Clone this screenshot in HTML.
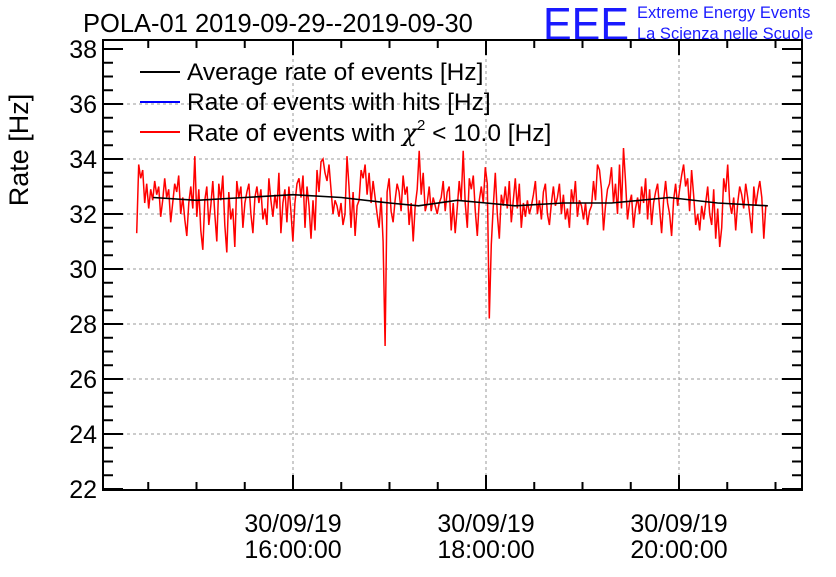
<!DOCTYPE html>
<html><head><meta charset="utf-8">
<style>
body{margin:0;background:#fff;width:836px;height:572px;overflow:hidden;font-family:"Liberation Sans",sans-serif;}
svg text{font-family:"Liberation Sans",sans-serif;}
</style></head><body>
<svg id="chart" width="836" height="572" viewBox="0 0 836 572">
<text x="83" y="32" font-size="25.5">POLA-01 2019-09-29--2019-09-30</text>
<g>
<text x="543" y="40" font-size="46" fill="#1a1aff" textLength="86" lengthAdjust="spacingAndGlyphs">EEE</text>
<text x="637" y="18" font-size="16.5" fill="#1a1aff">Extreme Energy Events</text>
<text x="637" y="39" font-size="16.5" fill="#1a1aff">La Scienza nelle Scuole</text>
</g>
<text transform="translate(28,150) rotate(-90)" text-anchor="middle" font-size="27">Rate [Hz]</text>
<g id="grid"></g>
<g id="axes"></g>
<g id="series"></g>
<rect x="103" y="40" width="699" height="450" fill="none" stroke="#000" stroke-width="2"/>
<g font-size="24.5">
<g><line x1="140" y1="72" x2="180" y2="72" stroke="#000" stroke-width="2"/><text x="187" y="80">Average rate of events [Hz]</text></g>
<g><line x1="140" y1="102" x2="180" y2="102" stroke="#00f" stroke-width="2"/><text x="187" y="110">Rate of events with hits [Hz]</text></g>
<g><line x1="140" y1="132" x2="180" y2="132" stroke="#f00" stroke-width="2"/><text x="187" y="141">Rate of events with <tspan font-family="DejaVu Serif, serif" font-style="italic">χ</tspan><tspan font-size="15" dy="-11">2</tspan><tspan dy="11"> &lt; 10.0 [Hz]</tspan></text></g>
</g>
</svg>
<script>
const yTicks=[22,24,26,28,30,32,34,36,38];
const xTickHours=[16,18,20];
const xTickLabels=[["30/09/19","16:00:00"],["30/09/19","18:00:00"],["30/09/19","20:00:00"]];
const tStart=14.38, tEnd=20.92;
const redValues=[
31.3,33.8,33.3,33.6,32.4,33.1,32.2,32.9,32.5,33.2,32.7,33.0,31.9,32.5,33.3,32.6,32.9,31.7,32.4,33.1,
32.8,33.4,32.0,32.6,31.8,31.2,32.4,33.0,32.2,34.1,31.9,32.9,31.4,30.7,32.5,33.0,31.6,32.3,33.2,32.0,
31.0,33.1,32.5,33.4,31.6,30.6,32.8,31.8,32.2,30.8,33.2,32.6,33.0,31.5,32.4,32.8,33.1,32.0,31.3,32.6,
33.0,32.4,32.9,31.8,32.2,31.6,33.3,32.5,31.9,32.7,32.2,33.5,31.3,32.4,32.9,31.7,33.0,32.1,31.0,32.4,
33.1,33.3,32.6,33.4,31.5,33.0,32.3,31.1,32.5,31.4,33.6,32.8,33.9,34.0,33.5,33.2,33.8,32.9,32.0,32.5,
32.3,31.9,32.4,31.6,32.0,34.1,33.0,31.5,32.8,31.2,32.3,32.5,33.6,33.3,33.8,32.7,33.5,32.4,33.2,32.6,
32.0,31.5,32.6,31.0,27.2,32.8,33.3,32.1,31.7,32.5,33.1,32.8,32.1,33.4,32.7,33.0,31.6,32.4,31.0,32.3,
32.9,34.3,32.7,33.5,32.1,32.4,33.0,32.1,32.6,32.3,32.0,32.4,32.6,33.2,32.1,32.8,33.0,31.4,32.4,31.3,
32.2,33.2,32.5,34.3,32.4,31.5,33.3,32.9,33.4,32.1,31.2,32.5,33.0,32.4,33.7,33.1,28.2,30.9,32.3,33.5,
32.0,31.1,32.7,32.3,33.0,32.2,33.2,31.7,32.5,33.3,32.2,33.1,31.5,32.4,31.9,32.5,32.0,32.3,32.7,33.2,
32.0,32.5,31.8,32.8,33.1,32.0,31.6,32.4,33.0,32.3,32.6,33.1,32.0,32.7,31.8,32.2,31.5,32.9,32.4,33.2,
31.9,32.5,32.3,31.8,32.4,31.6,32.1,32.3,33.2,32.5,33.8,33.6,32.9,31.4,32.3,32.9,33.1,33.7,32.4,33.1,
32.0,33.8,32.2,34.4,33.2,31.8,32.4,32.7,31.5,32.2,32.6,32.0,33.0,32.4,33.3,31.8,32.9,31.6,32.4,32.8,
33.1,32.2,31.3,32.5,33.2,32.4,32.0,31.2,32.5,33.1,32.3,32.9,33.4,33.8,33.0,33.3,32.1,33.6,32.7,31.6,
32.0,31.4,32.3,31.8,32.4,33.0,32.0,31.6,32.9,31.1,32.2,30.8,31.5,33.3,32.8,33.8,32.4,32.0,32.6,31.4,
32.4,33.0,32.7,32.2,33.1,32.6,32.0,31.3,33.0,32.3,32.8,33.2,32.6,31.1,32.3,32.3];
const avgTimes=[14.55,15.0,15.5,16.0,16.5,17.0,17.3,17.7,18.0,18.3,18.8,19.3,19.9,20.4,20.92];
const avgValues=[32.6,32.5,32.6,32.7,32.6,32.4,32.3,32.5,32.4,32.3,32.4,32.4,32.6,32.4,32.3];
const X=t=>293+(t-16)*96.5;
const Y=v=>489-(v-22)*27.5;
const NS="http://www.w3.org/2000/svg";
function mk(tag,attrs,parent){const e=document.createElementNS(NS,tag);for(const k in attrs)e.setAttribute(k,attrs[k]);parent.appendChild(e);return e;}
const grid=document.getElementById('grid'),axes=document.getElementById('axes'),series=document.getElementById('series');
yTicks.forEach(v=>{
 const y=Y(v);
 if(v>22&&v<38){const g=mk('line',{x1:103,x2:802,y1:y,y2:y,stroke:'#999','stroke-dasharray':'3,3','stroke-width':1},grid);
 
 }
 mk('line',{x1:103,x2:123,y1:y,y2:y,stroke:'#000','stroke-width':2},axes);
 mk('line',{x1:782,x2:802,y1:y,y2:y,stroke:'#000','stroke-width':2},axes);
 const t=mk('text',{x:97,y:y+9,'text-anchor':'end','font-size':25},axes);t.textContent=v;
 
 
});
for(let v=22;v<=38.01;v+=0.5){if(v%2===0)continue;const y=Y(v);
 mk('line',{x1:103,x2:113,y1:y,y2:y,stroke:'#000','stroke-width':2},axes);
 mk('line',{x1:792,x2:802,y1:y,y2:y,stroke:'#000','stroke-width':2},axes);}
for(let t=14.5;t<=21.01;t+=0.5){const x=X(t);if(x<103||x>802)continue;
 const major=xTickHours.includes(t);
 mk('line',{x1:x,x2:x,y1:489,y2:major?475:482,stroke:'#000','stroke-width':2},axes);
 mk('line',{x1:x,x2:x,y1:41,y2:major?55:48,stroke:'#000','stroke-width':2},axes);}
xTickHours.forEach((h,i)=>{const x=X(h);
 const g=mk('line',{x1:x,x2:x,y1:41,y2:489,stroke:'#999','stroke-dasharray':'3,3','stroke-width':1},grid);
 
 
 const t1=mk('text',{x:x,y:532,'text-anchor':'middle','font-size':25},axes);t1.textContent=xTickLabels[i][0];
 
 
 const t2=mk('text',{x:x,y:558,'text-anchor':'middle','font-size':25},axes);t2.textContent=xTickLabels[i][1];
 
 
});
const n=redValues.length;
const redPts=redValues.map((v,i)=>X(tStart+(tEnd-tStart)*i/(n-1)).toFixed(1)+','+Y(v).toFixed(1)).join(' ');
const red=mk('polyline',{points:redPts,fill:'none',stroke:'#f00','stroke-width':1.5},series);


const avgPts=avgValues.map((v,i)=>X(avgTimes[i]).toFixed(1)+','+Y(v).toFixed(1)).join(' ');
const avg=mk('polyline',{points:avgPts,fill:'none',stroke:'#000','stroke-width':1.6},series);


</script>
</body></html>
